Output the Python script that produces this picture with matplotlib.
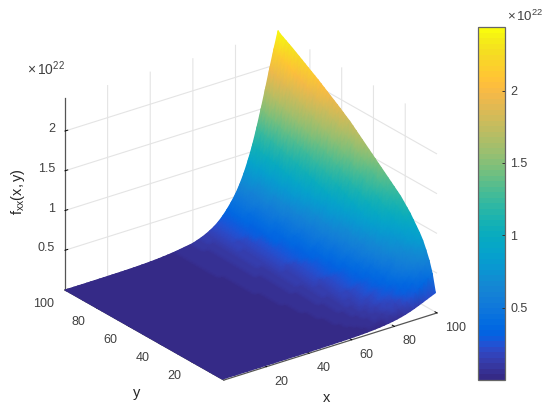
import matplotlib
matplotlib.use('Agg')
import matplotlib.pyplot as plt
import numpy as np
from matplotlib.colors import ListedColormap
from mpl_toolkits.mplot3d import proj3d

# Values, z in units of 1e22
x_vals = list(range(0, 101, 2))
z_at_y100 = [0, 0, 0, 0, 0, 0, 0.0005, 0.0005, 0.001, 0.001, 0.002, 0.002, 0.003, 0.003, 0.004, 0.005, 0.006,
             0.008, 0.010, 0.012, 0.015, 0.018, 0.022, 0.027, 0.032, 0.038, 0.045, 0.053, 0.062, 0.070, 0.08,
             0.098, 0.118, 0.142, 0.172, 0.206, 0.25, 0.305, 0.37, 0.445, 0.53, 0.635, 0.76, 0.91, 1.08, 1.28,
             1.5, 1.73, 1.97, 2.2, 2.42]
y_vals = list(range(1, 100, 2)) + [100]
y_share = [0.10, 0.19, 0.25, 0.295, 0.335, 0.365, 0.39, 0.415, 0.44, 0.46, 0.48, 0.50, 0.515, 0.53, 0.545, 0.56,
           0.575, 0.59, 0.605, 0.62, 0.635, 0.65, 0.665, 0.68, 0.695, 0.71, 0.725, 0.74, 0.752, 0.765, 0.778,
           0.79, 0.802, 0.814, 0.826, 0.838, 0.85, 0.862, 0.873, 0.884, 0.895, 0.906, 0.917, 0.928, 0.939, 0.95,
           0.96, 0.97, 0.98, 0.99, 1.0]

x_ticks = [20, 40, 60, 80, 100]
y_ticks = [20, 40, 60, 80, 100]
z_ticks = [0.5, 1, 1.5, 2]
z_tick_labels = ['0.5', '1', '1.5', '2']

parula = ListedColormap([
    [0.2081, 0.1663, 0.5292], [0.2116, 0.1898, 0.5777], [0.2123, 0.2138, 0.6270], [0.2081, 0.2386, 0.6771],
    [0.1959, 0.2645, 0.7279], [0.1707, 0.2919, 0.7792], [0.1253, 0.3242, 0.8303], [0.0591, 0.3598, 0.8683],
    [0.0117, 0.3875, 0.8820], [0.0060, 0.4086, 0.8828], [0.0165, 0.4266, 0.8786], [0.0329, 0.4430, 0.8720],
    [0.0498, 0.4586, 0.8641], [0.0629, 0.4737, 0.8554], [0.0723, 0.4887, 0.8467], [0.0779, 0.5040, 0.8384],
    [0.0793, 0.5200, 0.8312], [0.0749, 0.5375, 0.8263], [0.0641, 0.5570, 0.8240], [0.0488, 0.5772, 0.8228],
    [0.0343, 0.5966, 0.8199], [0.0265, 0.6137, 0.8135], [0.0239, 0.6287, 0.8038], [0.0231, 0.6418, 0.7913],
    [0.0228, 0.6535, 0.7768], [0.0267, 0.6642, 0.7607], [0.0384, 0.6743, 0.7436], [0.0590, 0.6838, 0.7254],
    [0.0843, 0.6928, 0.7062], [0.1133, 0.7015, 0.6859], [0.1453, 0.7098, 0.6646], [0.1801, 0.7177, 0.6424],
    [0.2178, 0.7250, 0.6193], [0.2586, 0.7317, 0.5954], [0.3022, 0.7376, 0.5712], [0.3482, 0.7424, 0.5473],
    [0.3953, 0.7459, 0.5244], [0.4420, 0.7481, 0.5033], [0.4871, 0.7491, 0.4840], [0.5300, 0.7491, 0.4661],
    [0.5709, 0.7485, 0.4494], [0.6099, 0.7473, 0.4337], [0.6473, 0.7456, 0.4188], [0.6834, 0.7435, 0.4044],
    [0.7184, 0.7411, 0.3905], [0.7525, 0.7384, 0.3768], [0.7858, 0.7356, 0.3633], [0.8185, 0.7327, 0.3498],
    [0.8507, 0.7299, 0.3360], [0.8824, 0.7274, 0.3217], [0.9139, 0.7258, 0.3063], [0.9450, 0.7261, 0.2886],
    [0.9739, 0.7314, 0.2666], [0.9938, 0.7455, 0.2403], [0.9990, 0.7653, 0.2164], [0.9955, 0.7861, 0.1967],
    [0.9880, 0.8066, 0.1794], [0.9789, 0.8271, 0.1633], [0.9697, 0.8481, 0.1475], [0.9626, 0.8705, 0.1309],
    [0.9589, 0.8949, 0.1132], [0.9598, 0.9218, 0.0948], [0.9661, 0.9514, 0.0755], [0.9763, 0.9831, 0.0538]])

plt.rcParams['font.family'] = ['Liberation Sans', 'DejaVu Sans']
plt.rcParams['mathtext.fontset'] = 'custom'
plt.rcParams['mathtext.rm'] = 'Liberation Sans'
plt.rcParams['mathtext.it'] = 'Liberation Sans'
plt.rcParams['grid.color'] = '#e4e4e4'
plt.rcParams['grid.linewidth'] = 0.8

W, H = 550, 411
TEXT = '#404040'
LABEL_SIZE = 9
fig = plt.figure(figsize=(W / 100, H / 100), dpi=100)
ax = fig.add_axes([0.1, 0.1, 0.7, 0.7 * W / H], projection='3d', proj_type='ortho')

ax.view_init(elev=25, azim=233.3)
ax.set_box_aspect((1, 1, 0.795))
ax.set_xlim(0, 100, view_margin=0)
ax.set_ylim(0, 100, view_margin=0)
ax.set_zlim(0, 2.41, view_margin=0)
ax.set_xticks(x_ticks)
ax.set_yticks(y_ticks)
ax.set_zticks(z_ticks)
ax.set_xticklabels([])
ax.set_yticklabels([])
ax.set_zticklabels([])

for axis in (ax.xaxis, ax.yaxis, ax.zaxis):
    axis.set_pane_color((1, 1, 1, 0))
    axis.pane.set_edgecolor('none')
    axis.line.set_color('#555555')
    axis.line.set_linewidth(0.9)
    axis._axinfo['tick']['inward_factor'] = 0.0
    axis._axinfo['tick']['outward_factor'] = 0.16
    axis._axinfo['tick']['linewidth'] = {True: 0.7, False: 0.5}
    axis._axinfo['tick']['color'] = '#555555'


def project_px(x, y, z):
    px, py, _ = proj3d.proj_transform(x, y, z, ax.get_proj())
    return ax.transData.transform(np.column_stack([px, py]))


# fit the cube onto the pixel spots of the reference corners
fig.canvas.draw()
left = project_px([0], [100], [0])[0]
right = project_px([100], [0], [0])[0]
scale = (437 - 65) / (right[0] - left[0])
pos = ax.get_position()
side = pos.width * W * scale
ax.set_position([pos.x0, pos.y0, side / W, side / H])
fig.canvas.draw()
left = project_px([0], [100], [0])[0]
pos = ax.get_position()
ax.set_position([pos.x0 + (65 - left[0]) / W, pos.y0 + ((H - 290) - left[1]) / H, pos.width, pos.height])
fig.canvas.draw()

# surface goes on a pixel-space overlay so gouraud gives the interpolated shading of the original
overlay = fig.add_axes([0, 0, 1, 1], frameon=False)
overlay.set_xlim(0, W)
overlay.set_ylim(0, H)
overlay.set_xticks([])
overlay.set_yticks([])

X, Y = np.meshgrid(x_vals, y_vals)
Z = np.outer(y_share, z_at_y100)
pts = project_px(X.ravel(), Y.ravel(), Z.ravel())
sx = pts[:, 0].reshape(X.shape)
sy = pts[:, 1].reshape(X.shape)
surf = overlay.pcolormesh(sx[::-1, ::-1], sy[::-1, ::-1], Z[::-1, ::-1], cmap=parula, vmin=0, vmax=2.44,
                          shading='gouraud')

# tick labels sit in MATLAB's spots, which the 3d axis can't reach with pad alone
for v, p in zip(x_ticks, project_px(x_ticks, [0] * 5, [0] * 5)):
    overlay.text(p[0] + 8, p[1] - 15, str(v), fontsize=LABEL_SIZE, color=TEXT, ha='left', va='center')
for v, p in zip(y_ticks, project_px([0] * 5, y_ticks, [0] * 5)):
    overlay.text(p[0] - 11, p[1] - 13.5, str(v), fontsize=LABEL_SIZE, color=TEXT, ha='right', va='center')
for s, p in zip(z_tick_labels, project_px([0] * 4, [100] * 4, z_ticks)):
    overlay.text(p[0] - 10, p[1] + 2, s, fontsize=LABEL_SIZE, color=TEXT, ha='right', va='center')

cax = fig.add_axes([478 / W, 1 - 380 / H, 27 / W, 353 / H])
cb = fig.colorbar(surf, cax=cax, ticks=z_ticks)
cb.ax.set_yticklabels(z_tick_labels)
cb.ax.tick_params(labelsize=LABEL_SIZE, labelcolor=TEXT, color='#333333', direction='in', length=2, width=0.7, pad=4)
cb.outline.set_edgecolor('#666666')
cb.outline.set_linewidth(0.9)

fig.text(27 / W, 1 - 69 / H, r'$\times\,10^{22}$', fontsize=10, color=TEXT, ha='left', va='center')
fig.text(507 / W, 1 - 16 / H, r'$\times\,10^{22}$', fontsize=9.5, color=TEXT, ha='left', va='center')
fig.text(18 / W, 1 - 192 / H, r'$\mathrm{f_{xx}(x,y)}$', fontsize=10.5, color='#262626', rotation=90, ha='center', va='center')
fig.text(327 / W, 1 - 398 / H, 'x', fontsize=10.5, color='#262626', ha='center', va='center')
fig.text(137 / W, 1 - 393 / H, 'y', fontsize=10.5, color='#262626', ha='center', va='center')

fig.savefig('out.png', dpi=100)
